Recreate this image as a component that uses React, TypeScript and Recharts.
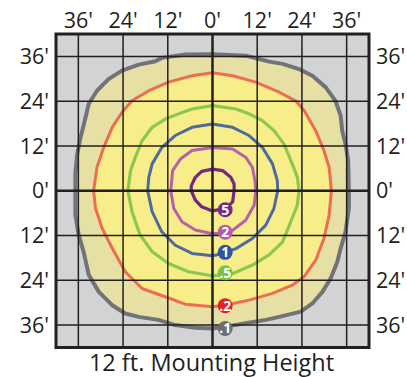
import React from "react";
import {
  ScatterChart,
  Scatter,
  XAxis,
  YAxis,
  CartesianGrid,
  ReferenceLine,
  ReferenceArea,
} from "recharts";

// grid ticks (feet)
const TICKS = [-36, -24, -12, 0, 12, 24, 36];
const DOMAIN: [number, number] = [-42, 42];

// isofootcandle contours, [x ft, y ft], clockwise from the top
const FC_01: [number, number][] = [
  [0, 36.6], [8.9, 36.2], [12.5, 35.3], [15.2, 34.6], [18.8, 34], [23.2, 32.6],
  [26.8, 30.8], [30.4, 27.7], [33, 24.1], [34.4, 20.1], [34.8, 16.1], [35.7, 12.5],
  [36.4, 8.1], [36.6, 0], [36.6, -4.7], [35.7, -11], [34.4, -15.4], [33.5, -19],
  [31.7, -23.5], [29.5, -27.1], [26.8, -30.2], [23.7, -32.4], [17.9, -33.8],
  [14.3, -34.6], [8.9, -35.5], [3.6, -36.4], [0, -36.9], [-4.6, -36.7], [-10, -36],
  [-14.5, -34.6], [-19.8, -33.8], [-23.4, -32.9], [-27, -30.6], [-30.5, -27.1],
  [-33.2, -22.6], [-34.6, -16.3], [-35.9, -11.9], [-36.8, -6.5], [-36.8, 0],
  [-36.8, 4.5], [-36.3, 9.9], [-35.4, 14.3], [-34.5, 17.9], [-33.2, 23.3],
  [-31, 26.8], [-27.9, 29.9], [-24.3, 32.2], [-19.8, 33.8], [-15.3, 34.7],
  [-13.6, 35.6], [-7.3, 36.5],
];

const FC_02: [number, number][] = [
  [0, 31.6], [5.4, 30.8], [11.6, 29.1], [17.9, 26.4], [22.3, 24.1], [24.6, 21.5],
  [27.7, 16.1], [29.9, 10.8], [31.3, 6.3], [31.9, 0], [31.3, -6.5], [29.9, -12.8],
  [27.7, -18.6], [24.6, -23], [21.4, -25.3], [16.1, -27.5], [9.8, -29.3],
  [4.5, -30.4], [0, -31.1], [-7.3, -30.4], [-12.7, -28.4], [-18.9, -26.2],
  [-23.4, -21.7], [-26.9, -15.4], [-29.6, -10.1], [-31.4, -4.7], [-31.9, 0],
  [-31, 6.3], [-29.2, 11.6], [-26.9, 17], [-24.3, 21], [-21.6, 24.1],
  [-17.1, 26.8], [-11.8, 29.1], [-5.5, 30.8],
];

const FC_05: [number, number][] = [
  [0, 22.8], [6.3, 21.9], [9.8, 20.6], [13.4, 18.8], [16.5, 16.1], [19.2, 12.5],
  [21.4, 7.2], [22.8, 3.6], [23.2, 0], [22.8, -3.8], [21, -8.3], [18.8, -13.7],
  [15.2, -17.2], [10.7, -19.9], [5.4, -22.2], [0, -22.8], [-6.4, -21.7],
  [-11.8, -19.5], [-16.2, -16.3], [-19.4, -11.9], [-21.6, -5.6], [-22.7, 0],
  [-22, 5.4], [-20.7, 9], [-18.9, 13.4], [-16.2, 17], [-12.7, 19.2],
  [-9.1, 20.6], [-5.5, 21.9],
];

const FC_1: [number, number][] = [
  [0, 17.9], [5.4, 17], [9.8, 14.8], [13.4, 11.6], [16.1, 7.2], [17.4, 2.7],
  [17.5, 0], [16.5, -4.7], [14.3, -9.2], [10.7, -12.8], [6.3, -15.5],
  [2.7, -16.8], [0, -17.4], [-5.5, -16.8], [-10, -14.6], [-13.6, -11],
  [-16.2, -5.6], [-17.4, 0], [-17.1, 3.6], [-16.2, 7.2], [-13.6, 11.6],
  [-10, 14.8], [-5.5, 17],
];

const FC_2: [number, number][] = [
  [0, 11.6], [5.4, 11.2], [8.9, 9], [10.7, 6.3], [11.4, 2.7], [11.6, 0],
  [11.2, -3.8], [8.9, -7.9], [5.4, -10.6], [1.8, -11.4], [0, -11.5],
  [-4.6, -10.5], [-8.2, -8.3], [-10.4, -4.7], [-11.2, 0], [-10.7, 5.4],
  [-8.6, 8.5], [-5.5, 10.8],
];

const FC_5: [number, number][] = [
  [0, 5.8], [2.7, 5.4], [4.9, 3.6], [5.8, 1.8], [5.8, 0], [5.4, -3], [3.6, -4.7],
  [0, -5.4], [-2.9, -4.3], [-4.6, -2.5], [-5.7, 0], [-5.7, 1.3], [-4.6, 3.6],
  [-2.9, 5.2],
];

// contour badges along the lower centre line
const LABEL_TEXT = ["5", "2", "1", ".5", ".2", ".1"];
const LABEL_X = [3.4, 3.4, 3.4, 3.4, 3.4, 3.4];
const LABEL_Y = [-5.1, -11.1, -16.5, -22, -30.8, -36.9];

const LABEL_COLORS = ["#772a82", "#b35ba7", "#2f54a3", "#7cc143", "#e42127", "#6d6e71"];
const INK = "#231f20";
const FONT = "'Open Sans', sans-serif";

const toPts = (arr: [number, number][]) => arr.map(([x, y]) => ({ x, y }));

const labelData = LABEL_TEXT.map((t, i) => ({ x: LABEL_X[i], y: LABEL_Y[i], t, i }));

const noDot = () => <g />;

const Badge = (props: any) => {
  const { cx, cy, payload } = props;
  return (
    <g>
      <circle cx={cx} cy={cy} r={7.5} fill={LABEL_COLORS[payload.i]} />
      <text
        x={cx}
        y={cy + 5}
        textAnchor="middle"
        fill="#fff"
        fontSize={14}
        fontWeight={700}
        fontFamily={FONT}
      >
        {payload.t}
      </text>
    </g>
  );
};

const tickStyle = { fill: INK, fontSize: 21.5, fontFamily: FONT };
const fmt = (v: number) => `${Math.abs(v)}'`;

export default function App() {
  const contours = [
    { data: FC_01, stroke: "#727376", width: 4, fill: "#e6e0a4" },
    { data: FC_02, stroke: "#ee6d52", width: 3, fill: "#f7ee8a" },
    { data: FC_05, stroke: "#8cc751", width: 3.2, fill: "none" },
    { data: FC_1, stroke: "#51699f", width: 3, fill: "none" },
    { data: FC_2, stroke: "#b662aa", width: 3, fill: "none" },
    { data: FC_5, stroke: "#75287f", width: 3.2, fill: "none" },
  ];

  return (
    <div style={{ position: "relative", width: 407, height: 377 }}>
      <style>{`html, body { margin: 0; overflow: hidden; }`}</style>
      <ScatterChart
        width={407}
        height={377}
        margin={{ top: 8, right: 0, bottom: 29.5, left: 8 }}
      >
        <CartesianGrid fill="#d1d3d4" horizontal={false} vertical={false} stroke="none" />
        <XAxis
          type="number"
          dataKey="x"
          orientation="top"
          domain={DOMAIN}
          ticks={TICKS}
          tickFormatter={fmt}
          height={26}
          tickSize={0}
          tickMargin={6}
          axisLine={false}
          tickLine={false}
          tick={tickStyle}
          allowDataOverflow
        />
        <YAxis
          type="number"
          dataKey="y"
          domain={DOMAIN}
          ticks={TICKS}
          tickFormatter={fmt}
          width={48}
          tickSize={0}
          tickMargin={7}
          axisLine={false}
          tickLine={false}
          tick={tickStyle}
          allowDataOverflow
        />
        <YAxis
          yAxisId="right"
          type="number"
          orientation="right"
          domain={DOMAIN}
          ticks={TICKS}
          tickFormatter={fmt}
          width={38}
          tickSize={0}
          tickMargin={7}
          axisLine={false}
          tickLine={false}
          tick={tickStyle}
          allowDataOverflow
        />

        {contours.map((c, i) => (
          <Scatter
            key={i}
            data={toPts(c.data)}
            shape={noDot}
            line={{ stroke: c.stroke, strokeWidth: c.width, fill: c.fill, strokeLinejoin: "round" }}
            lineJointType="linearClosed"
            legendType="none"
            isAnimationActive={false}
          />
        ))}

        {TICKS.map((t) => (
          <ReferenceLine
            key={`v${t}`}
            x={t}
            stroke={INK}
            strokeWidth={t === 0 ? 2.5 : 1.5}
            zIndex={700}
          />
        ))}
        {TICKS.map((t) => (
          <ReferenceLine
            key={`h${t}`}
            y={t}
            stroke={INK}
            strokeWidth={t === 0 ? 2.5 : 1.5}
            zIndex={700}
          />
        ))}

        <Scatter
          data={labelData}
          shape={Badge}
          legendType="none"
          isAnimationActive={false}
          zIndex={800}
        />

        <ReferenceArea
          x1={-42}
          x2={42}
          y1={-42}
          y2={42}
          fill="none"
          stroke={INK}
          strokeWidth={3}
          zIndex={900}
        />
      </ScatterChart>
      <div
        style={{
          position: "absolute",
          left: 8,
          width: 407,
          top: 349.5,
          textAlign: "center",
          fontFamily: FONT,
          fontSize: 23.5,
          lineHeight: "24px",
          color: INK,
          whiteSpace: "nowrap",
        }}
      >
        12 ft. Mounting Height
      </div>
    </div>
  );
}
